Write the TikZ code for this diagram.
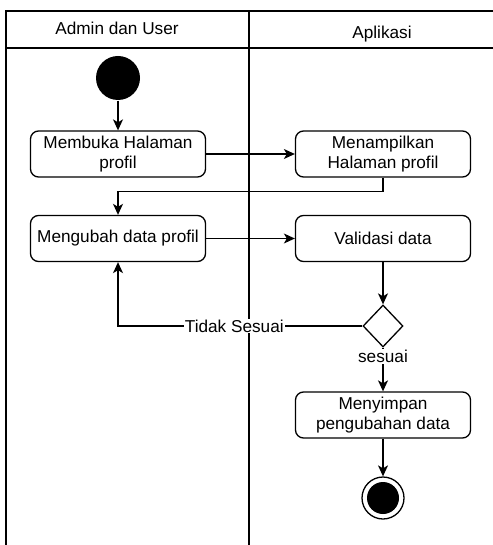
\documentclass[tikz,border=0pt]{standalone}
\usepackage{fontspec}
\setmainfont{Liberation Sans}
\usetikzlibrary{arrows.meta,shapes.geometric}

\begin{document}
\begin{tikzpicture}[x=1pt,y=-1pt,
  line width=1.3pt,
  every node/.style={font=\fontsize{17.2}{20.6}\selectfont},
  act/.style={draw,rounded corners=8pt,minimum width=175pt,minimum height=46pt,
    align=center,inner sep=0pt},
  flow/.style={-{Stealth[length=11pt,width=10pt,inset=3pt]}},
  lbl/.style={fill=white,inner sep=1pt},
  lane/.style={line width=1.3pt}]
\useasboundingbox (0,0) rectangle (492,545);

% swimlane frame
\draw[lane] (6,550) -- (6,11) -- (500,11);
\draw[lane] (6,48) -- (500,48);
\draw[lane] (249,11) -- (249,550);
\node[anchor=base] (h1) at (117,35) {Admin dan User};
\node[anchor=base] (h2) at (382,39) {Aplikasi};

% start and end states
\node[circle,fill=black,minimum size=44pt,inner sep=0pt] (start) at (118,78) {};
\node[circle,draw,fill=white,minimum size=42pt,inner sep=0pt] (stop) at (383,498) {};
\fill (stop.center) circle[radius=16pt];

% activities
\node[act] (b1) at (118,154) {Membuka Halaman\\profil};
\node[act] (b3) at (383,154) {Menampilkan\\Halaman profil};
\node[act] (b2) at (118,238.5) {Mengubah data profil};
\node[act] (b4) at (383,238.5) {Validasi data};
\node[draw,diamond,minimum width=40pt,minimum height=42pt,inner sep=0pt] (dia) at (383,326) {};
\node[act] (b5) at (383,415) {Menyimpan\\pengubahan data};

% transitions
\draw[flow] (start) -- (b1);
\draw[flow] (b1) -- (b3);
\draw[flow] (b3.south) -- ++(0,14) -| (b2.north);
\draw[flow] (b2) -- (b4);
\draw[flow] (b4) -- (dia);
\draw[flow] (dia.west) -- node[lbl,pos=0.524]{Tidak Sesuai} (b2.south |- dia.west) -- (b2.south);
\draw[flow] (dia.south) -- node[lbl,pos=0.2]{sesuai} (b5.north);
\draw[flow] (b5) -- (stop);
\end{tikzpicture}
\end{document}
